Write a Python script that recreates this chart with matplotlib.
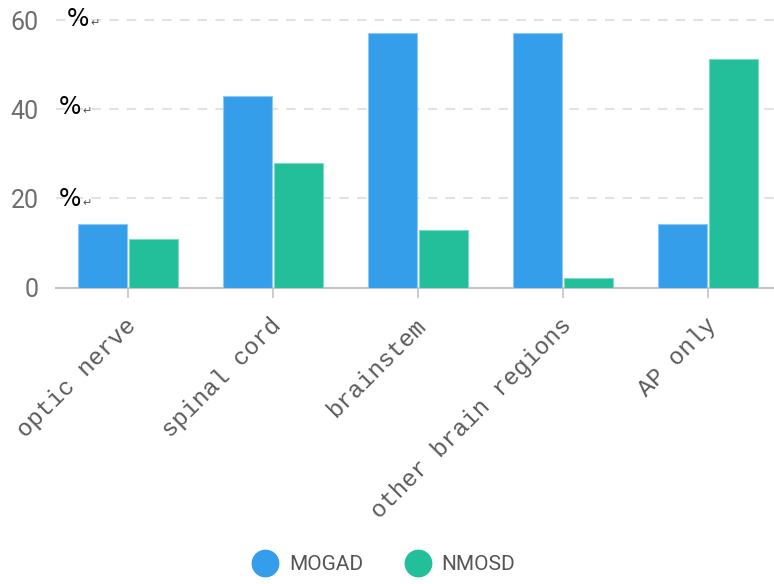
import matplotlib
matplotlib.use("Agg")
import matplotlib.pyplot as plt
import matplotlib.transforms as mtransforms
from matplotlib.lines import Line2D
import numpy as np

categories = ["optic nerve", "spinal cord", "brainstem", "other brain regions", "AP only"]
mogad = [14.3, 42.9, 57.1, 57.1, 14.3]
nmosd = [10.9, 27.9, 13.0, 2.1, 51.3]
series_names = ["MOGAD", "NMOSD"]
yticks = [0, 20, 40, 60]

W, H = 774, 584
fig = plt.figure(figsize=(W / 100, H / 100), dpi=100)

def px(x, y):
    return x / W, 1 - y / H

ppu = (287.5 - 20) / 60.0
ymax = 61
top_px = 287.5 - ymax * ppu
ax = fig.add_axes([55.5 / W, 1 - 287.5 / H, 725 / W, (287.5 - top_px) / H])

blue = "#349EEA"
green = "#22BF9A"
x = np.arange(len(categories))
bw = 0.338
ax.bar(x - 0.176, mogad, width=bw, color=blue, edgecolor="#8EC8F4", linewidth=0.8, zorder=3)
ax.bar(x + 0.179, nmosd, width=bw, color=green, edgecolor="#7CD9C2", linewidth=0.8, zorder=3)

ax.set_xlim(-0.5, 4.5)
ax.set_ylim(0, ymax)
ax.set_yticks(yticks)
ax.yaxis.grid(True, color="#E2E2E2", linestyle=(0, (4.5, 4)), linewidth=1.5)
ax.set_axisbelow(True)
for s in ["top", "right", "left"]:
    ax.spines[s].set_visible(False)
ax.spines["bottom"].set_color("#C4C4C4")
ax.spines["bottom"].set_linewidth(1.5)

ax.tick_params(axis="y", length=0, pad=12, labelsize=18, labelcolor="#6e6e6e")
for t in ax.get_yticklabels():
    t.set_fontfamily(["Roboto", "DejaVu Sans"])
    t.set_fontweight("normal")

ax.set_xticks(x)
ax.set_xticklabels(categories, rotation=45, ha="right", va="top",
                   fontfamily=["Liberation Mono", "DejaVu Sans Mono"], fontsize=17.3, color="#5a5a5a")
ax.tick_params(axis="x", length=7, width=1.2, color="#C4C4C4", pad=12)
offset = mtransforms.ScaledTranslation(13 / 100, 0, fig.dpi_scale_trans)
for t in ax.get_xticklabels():
    t.set_transform(t.get_transform() + offset)

# "%↵" marks near y ticks
for (xp, yp) in [(67, 19), (59, 107), (59, 199)]:
    fx, fy = px(xp, yp)
    fig.text(fx, fy, "%", fontsize=17, color="black", ha="left", va="center",
             fontfamily=["DejaVu Sans"])
    fx2, fy2 = px(xp + 23, yp + 4)
    fig.text(fx2, fy2, "\u21b5", fontsize=8, color="#555555", ha="left", va="center",
             fontfamily=["DejaVu Sans"])

handles = [Line2D([], [], marker="o", linestyle="none", markersize=19, color=blue),
           Line2D([], [], marker="o", linestyle="none", markersize=19, color=green)]
lx, ly = px(380, 565)
leg = fig.legend(handles, series_names, loc="center", bbox_to_anchor=(lx, ly), ncol=2,
                 frameon=False, handletextpad=0.15, columnspacing=1.6,
                 prop={"family": ["Roboto", "DejaVu Sans"], "size": 15})
for t in leg.get_texts():
    t.set_color("#555555")

fig.savefig("out.png", dpi=100)
